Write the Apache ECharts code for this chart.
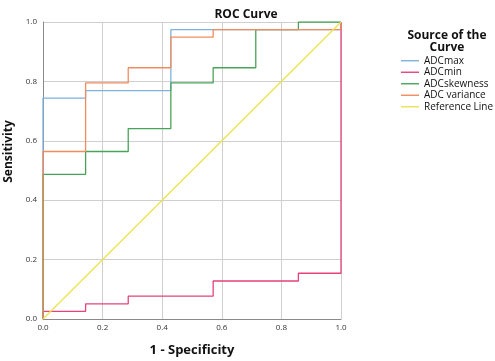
<!DOCTYPE html>
<html>
<head>
<meta charset="utf-8">
<script src="https://cdn.jsdelivr.net/npm/echarts@6/dist/echarts.min.js"></script>
<style>
html, body { margin: 0; padding: 0; background: #fff; }
#chart { width: 495px; height: 361px; }
</style>
</head>
<body>
<div id="chart"></div>
<script>
// ROC coordinates (1 - specificity, sensitivity), corner points of each step curve
var maxFpr = [0, 0, 0.143, 0.143, 0.429, 0.429, 1, 1];
var maxTpr = [0, 0.744, 0.744, 0.769, 0.769, 0.974, 0.974, 1];

var minFpr = [0, 0, 0.143, 0.143, 0.286, 0.286, 0.571, 0.571, 0.857, 0.857, 1, 1];
var minTpr = [0, 0.026, 0.026, 0.051, 0.051, 0.077, 0.077, 0.128, 0.128, 0.154, 0.154, 1];

var skewFpr = [0, 0, 0.143, 0.143, 0.286, 0.286, 0.429, 0.429, 0.571, 0.571, 0.714, 0.714, 0.857, 0.857, 1];
var skewTpr = [0, 0.487, 0.487, 0.564, 0.564, 0.641, 0.641, 0.795, 0.795, 0.846, 0.846, 0.974, 0.974, 1, 1];

var varFpr = [0, 0, 0.143, 0.143, 0.286, 0.286, 0.429, 0.429, 0.571, 0.571, 1, 1];
var varTpr = [0, 0.564, 0.564, 0.795, 0.795, 0.846, 0.846, 0.949, 0.949, 0.974, 0.974, 1];

var refFpr = [0, 1];
var refTpr = [0, 1];

var seriesNames = ["ADCmax", "ADCmin", "ADCskewness", "ADC variance", "Reference Line"];
var seriesColors = ["#7fb1dd", "#e5437a", "#4aa35a", "#f28c5e", "#ece34e"];

function pairs(xs, ys) {
    var out = [];
    for (var i = 0; i < xs.length; i++) {
        out.push([xs[i], ys[i]]);
    }
    return out;
}

var allData = [
    pairs(maxFpr, maxTpr),
    pairs(minFpr, minTpr),
    pairs(skewFpr, skewTpr),
    pairs(varFpr, varTpr),
    pairs(refFpr, refTpr)
];

var series = [];
for (var i = 0; i < seriesNames.length; i++) {
    series.push({
        name: seriesNames[i],
        type: "line",
        data: allData[i],
        symbol: "none",
        animation: false,
        lineStyle: { width: 1.3, color: seriesColors[i] },
        itemStyle: { color: seriesColors[i] }
    });
}

var chart = echarts.init(document.getElementById("chart"), null, { renderer: "canvas" });
chart.setOption({
    backgroundColor: "#fff",
    color: seriesColors,
    title: [{
        text: "ROC Curve",
        left: 241,
        top: 4,
        textAlign: "center",
        textStyle: { fontFamily: "Open Sans", fontSize: 12, fontWeight: "bold", color: "#111" }
    }, {
        text: "Source of the\nCurve",
        left: 442,
        top: 25,
        textAlign: "center",
        textStyle: { fontFamily: "Open Sans", fontSize: 12, fontWeight: "bold", color: "#111", lineHeight: 12 }
    }],
    legend: {
        orient: "vertical",
        left: 401,
        top: 55,
        padding: 0,
        itemWidth: 18,
        itemHeight: 1.4,
        itemGap: 0,
        icon: "rect",
        data: seriesNames,
        textStyle: { fontFamily: "Open Sans", fontSize: 10, color: "#111", lineHeight: 11.5 }
    },
    grid: { left: 43, right: 154, top: 22, bottom: 42, containLabel: false, outerBoundsMode: "none" },
    xAxis: {
        type: "value",
        min: 0,
        max: 1,
        interval: 0.2,
        name: "1 - Specificity",
        nameLocation: "middle",
        nameGap: 25,
        nameTextStyle: { fontFamily: "Open Sans", fontSize: 13, fontWeight: "bold", color: "#111" },
        axisLine: { lineStyle: { color: "#8a8a8a", width: 1 } },
        axisTick: { show: false },
        axisLabel: {
            fontFamily: "Open Sans", fontSize: 8, color: "#333", margin: 5,
            formatter: function (v) { return v.toFixed(1); }
        },
        splitLine: { show: true, lineStyle: { color: "#cfcfcf", width: 1 } }
    },
    yAxis: {
        type: "value",
        min: 0,
        max: 1,
        interval: 0.2,
        name: "Sensitivity",
        nameLocation: "middle",
        nameGap: 21,
        nameTextStyle: { fontFamily: "Open Sans", fontSize: 12, fontWeight: "bold", color: "#111", padding: [0, 0, 0, 38] },
        axisLine: { show: true, lineStyle: { color: "#8a8a8a", width: 1 } },
        axisTick: { show: false },
        axisLabel: {
            fontFamily: "Open Sans", fontSize: 8, color: "#333", margin: 6,
            formatter: function (v) { return v.toFixed(1); }
        },
        splitLine: { show: true, lineStyle: { color: "#cfcfcf", width: 1 } }
    },
    series: series
});
</script>
</body>
</html>
